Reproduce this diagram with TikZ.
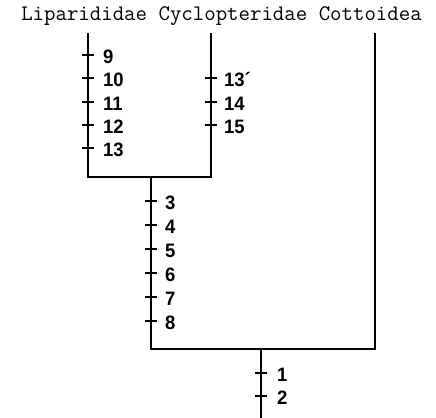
\documentclass[tikz,border=0pt]{standalone}
\usepackage{fontspec}
\setmainfont{Liberation Sans}
\newfontfamily\numfont{Liberation Sans Bold}[FakeStretch=0.95]
\begin{document}
\begin{tikzpicture}[x=1bp,y=-1bp,
  branch/.style={line width=1.8bp,line cap=rect},
  tick/.style={line width=1.6bp},
  lbl/.style={anchor=west,inner sep=0pt,yshift=-1.5bp,font=\numfont\fontsize{19.5}{20}\selectfont},
  ttl/.style={anchor=base,inner sep=0pt,font=\ttfamily\fontsize{22.3}{24}\selectfont}]
\useasboundingbox (0,0) rectangle (436,417);
% title
\node[ttl] (title) at (221.5,20.7) {Liparididae Cyclopteridae Cottoidea};
% tree coordinates
\coordinate (liptop) at (88,34);
\coordinate (lipbot) at (88,177);
\coordinate (cyctop) at (211,34);
\coordinate (cycbot) at (211,177);
\coordinate (j1) at (151,177);
\coordinate (j1bot) at (151,349);
\coordinate (cottop) at (375,34);
\coordinate (cotbot) at (375,349);
\coordinate (j2) at (261,349);
\coordinate (root) at (261,417);
\draw[branch] (liptop) -- (lipbot) -- (cycbot) -- (cyctop);
\draw[branch] (j1) -- (j1bot) -- (cotbot) -- (cottop);
\draw[branch] (j2) -- (root);
% ticks and labels
\foreach \y/\t [count=\i] in {55/9,78/10,102/11,125/12,148/13}{
  \draw[tick] (82,\y) -- (94,\y);
  \node[lbl] (lip\i) at (103,\y) {\t};
}
\foreach \y/\t [count=\i] in {78/13\rlap{\char"00B4},102/14,125/15}{
  \draw[tick] (205,\y) -- (217,\y);
  \node[lbl] (cyc\i) at (224,\y) {\t};
}
\foreach \y/\t [count=\i] in {201/3,225/4,249/5,273/6,297/7,321/8}{
  \draw[tick] (145,\y) -- (157,\y);
  \node[lbl] (stem\i) at (165,\y) {\t};
}
\foreach \y/\t [count=\i] in {373/1,396/2}{
  \draw[tick] (255,\y) -- (267,\y);
  \node[lbl] (root\i) at (277,\y) {\t};
}
\end{tikzpicture}
\end{document}
